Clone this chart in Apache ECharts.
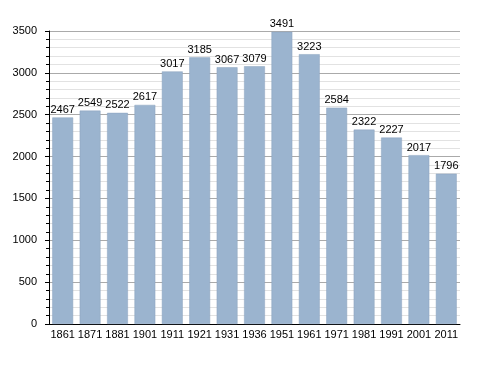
<!DOCTYPE html>
<html><head><meta charset="utf-8">
<script src="https://cdn.jsdelivr.net/npm/echarts@6/dist/echarts.min.js"></script>
<style>html,body{margin:0;padding:0;background:#fff}#c{width:488px;height:373px}</style>
</head><body><div id="c"></div>
<script>
const categories = ['1861','1871','1881','1901','1911','1921','1931','1936','1951','1961','1971','1981','1991','2001','2011'];
const population = [2467,2549,2522,2617,3017,3185,3067,3079,3491,3223,2584,2322,2227,2017,1796];
const yTicks = {min:0, max:3500, interval:500};

const chart = echarts.init(document.getElementById('c'), null, {renderer:'canvas'});
chart.setOption({
  animation:false,
  grid:{left:49, right:28, top:31, bottom:49, containLabel:false},
  xAxis:{
    type:'category', data:categories,
    axisLine:{show:true, lineStyle:{color:'#000', width:1}},
    axisTick:{show:false},
    axisLabel:{color:'#000', fontFamily:'Liberation Sans, Arial, sans-serif', fontSize:11, margin:5, interval:0}
  },
  yAxis:{
    type:'value', min:yTicks.min, max:yTicks.max, interval:yTicks.interval,
    axisLine:{show:true, lineStyle:{color:'#000', width:1}},
    axisTick:{show:true, length:4, lineStyle:{color:'#000'}},
    minorTick:{show:true, splitNumber:5, length:3, lineStyle:{color:'#000'}},
    splitLine:{show:true, lineStyle:{color:'#aaaaaa', width:1}},
    minorSplitLine:{show:true, lineStyle:{color:'#e2e2e2', width:1}},
    axisLabel:{color:'#000', fontFamily:'Liberation Sans, Arial, sans-serif', fontSize:11, margin:12, formatter: v => String(v)}
  },
  series:[{
    type:'bar', data:population, barCategoryGap:'24%',
    itemStyle:{color:'#9bb4cf', borderColor:'#8aa3bf', borderWidth:0.5},
    label:{show:true, position:'top', distance:2, color:'#000', fontFamily:'Liberation Sans, Arial, sans-serif', fontSize:11}
  }]
});
</script></body></html>
